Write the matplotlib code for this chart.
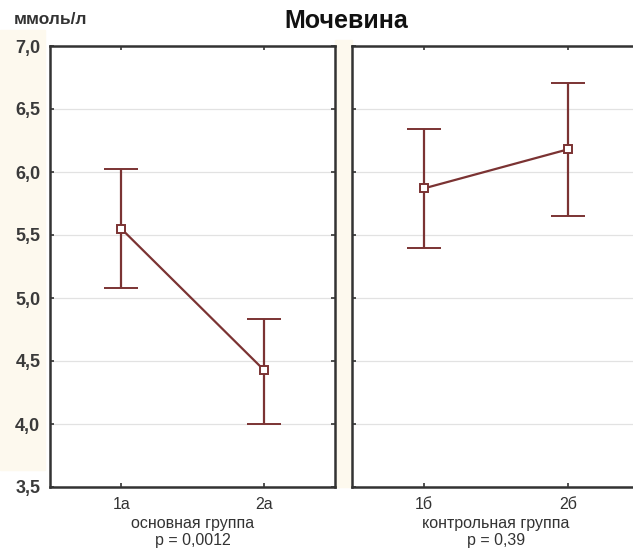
import matplotlib
matplotlib.use("Agg")
import matplotlib.pyplot as plt
import numpy as np

plt.rcParams['font.family'] = ['Liberation Sans', 'DejaVu Sans']

# mean and confidence limits, mmol/l
main_labels = ['1а', '2а']
main_mean = [5.55, 4.43]
main_low = [5.08, 4.00]
main_high = [6.02, 4.83]

ctrl_labels = ['1б', '2б']
ctrl_mean = [5.87, 6.18]
ctrl_low = [5.40, 5.65]
ctrl_high = [6.34, 6.71]

group_names = ['основная группа\np = 0,0012', 'контрольная группа\np = 0,39']
y_ticks = [3.5, 4.0, 4.5, 5.0, 5.5, 6.0, 6.5, 7.0]

W, H = 633, 551
fig = plt.figure(figsize=(W / 100, H / 100), dpi=100, facecolor='white')

def px_axes(x0, x1, y0, y1):
    return fig.add_axes([x0 / W, 1 - y1 / H, (x1 - x0) / W, (y1 - y0) / H])

# faint cream strips behind the y labels and between panels
cream = '#fdf9ee'
fig.patches.append(plt.Rectangle((0, 1 - 470 / H), 45 / W, 440 / H, transform=fig.transFigure,
                                 color=cream, zorder=-10))
fig.patches.append(plt.Rectangle((335 / W, 1 - 487 / H), 17 / W, 447 / H, transform=fig.transFigure,
                                 color=cream, zorder=-10))

ax1 = px_axes(50, 335, 46, 487)
ax2 = px_axes(352, 640, 46, 487)

line_col = '#7b3333'
for ax, labels, mean, low, high, name in [
        (ax1, main_labels, main_mean, main_low, main_high, group_names[0]),
        (ax2, ctrl_labels, ctrl_mean, ctrl_low, ctrl_high, group_names[1])]:
    x = np.arange(1, len(labels) + 1)
    mean = np.array(mean)
    err = [mean - np.array(low), np.array(high) - mean]
    ax.errorbar(x, mean, yerr=err, color=line_col, lw=1.6, capsize=12, capthick=1.6,
                marker='s', ms=6, mfc='white', mec=line_col, mew=1.4, zorder=3)
    ax.set_xlim(0.5, 2.5)
    ax.set_ylim(3.5, 7.0)
    ax.set_yticks(y_ticks)
    ax.set_xticks(x)
    ax.set_xticklabels(labels, fontsize=11.5, color='#333333')
    ax.set_xlabel(name, fontsize=11.5, color='#333333', labelpad=3, linespacing=1.15)
    ax.grid(axis='y', color='#e2e2e2', lw=0.9)
    ax.tick_params(direction='in', length=3, width=1.2, color='#333333',
                   top=True, right=True, pad=7)
    for s in ax.spines.values():
        s.set_linewidth(1.8)
        s.set_color('#333333')

ax1.set_yticklabels([f'{v:.1f}'.replace('.', ',') for v in y_ticks],
                    fontsize=13, fontweight='bold', color='#3a3a3a')
ax2.set_yticklabels([])

fig.text(14 / W, 1 - 20 / H, 'ммоль/л', fontsize=12.5, fontweight='bold', color='#333333',
         va='center', ha='left')
fig.text(346 / W, 1 - 21 / H, 'Мочевина', fontsize=18, fontweight='bold', color='#111111',
         va='center', ha='center')

fig.savefig('out.png', dpi=100, facecolor=fig.get_facecolor())
